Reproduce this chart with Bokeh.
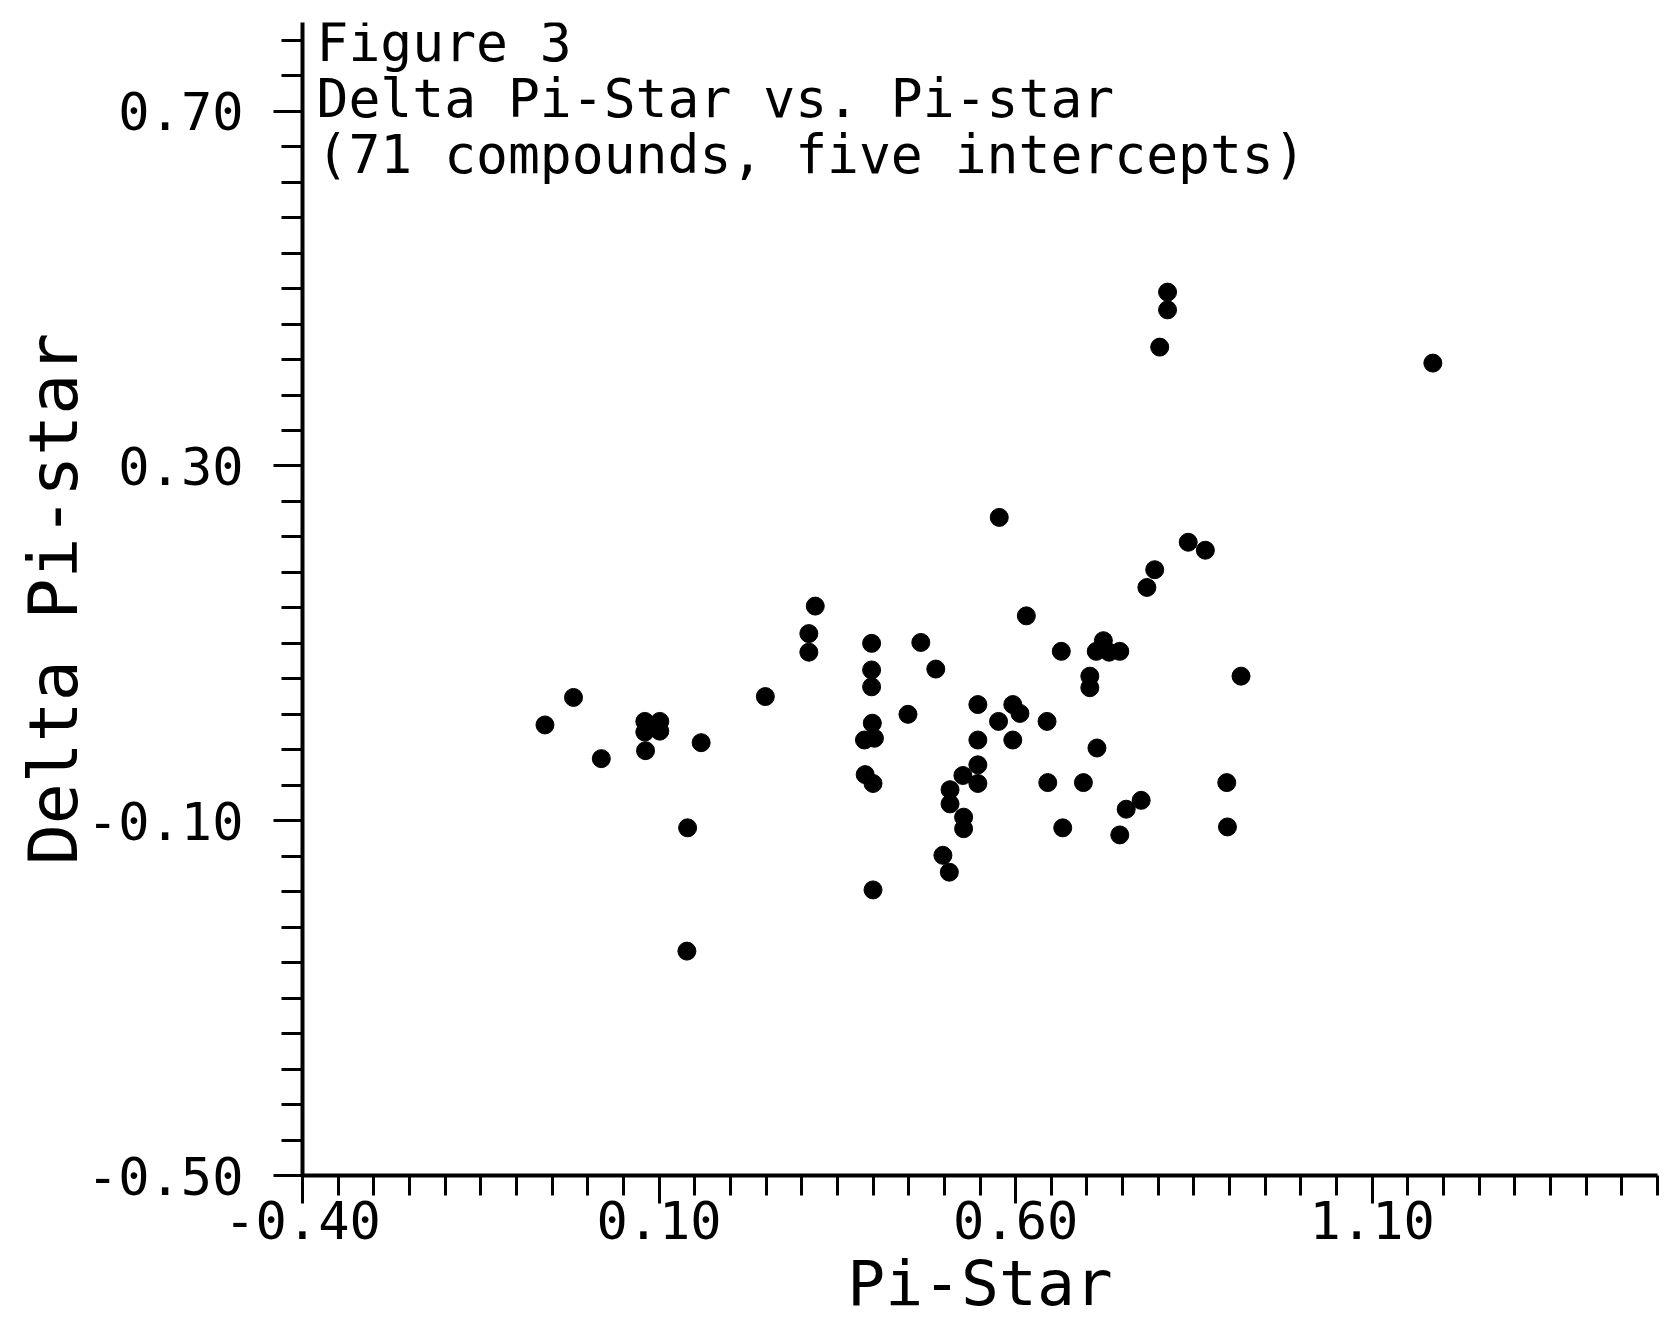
from bokeh.plotting import figure
from bokeh.models import FixedTicker, PrintfTickFormatter, Label, Range1d
from bokeh.embed import file_html
from bokeh.resources import INLINE

# ---- data (Pi-Star vs Delta Pi-star) ----
pi_star = [
    -0.060, -0.020, 0.019, 0.080, 0.101, 0.080, 0.101, 0.081, 0.159, 0.140,
    0.139, 0.249, 0.319, 0.310, 0.310, 0.398, 0.398, 0.398, 0.399, 0.388,
    0.402, 0.389, 0.400, 0.400, 0.467, 0.488, 0.449, 0.547, 0.596, 0.606,
    0.576, 0.644, 0.547, 0.596, 0.547, 0.526, 0.547, 0.508, 0.508, 0.527,
    0.527, 0.498, 0.507, 0.577, 0.615, 0.664, 0.723, 0.713, 0.731, 0.746,
    0.704, 0.704, 0.916, 0.714, 0.645, 0.695, 0.896, 0.776, 0.755, 0.666,
    0.746, 0.897, 0.784, 0.795, 0.842, 0.866, 0.813, 0.813, 0.802, 1.185,
]
delta_pi_star = [
    0.008, 0.039, -0.030, 0.012, 0.012, 0.000, 0.001, -0.021, -0.012, -0.108,
    -0.247, 0.040, 0.142, 0.111, 0.090, 0.100, 0.070, 0.051, 0.010, -0.009,
    -0.007, -0.048, -0.058, -0.178, 0.101, 0.071, 0.020, 0.031, 0.031, 0.021,
    0.012, 0.012, -0.009, -0.009, -0.037, -0.049, -0.058, -0.065, -0.081, -0.096,
    -0.109, -0.139, -0.158, 0.242, 0.131, 0.091, 0.103, 0.091, 0.090, 0.091,
    0.063, 0.050, 0.063, -0.018, -0.057, -0.057, -0.057, -0.077, -0.087, -0.108,
    -0.116, -0.107, 0.163, 0.183, 0.214, 0.205, 0.496, 0.476, 0.434, 0.416,
]

x_major_ticks = [-0.40, 0.10, 0.60, 1.10]
x_minor_ticks = [round(-0.40 + 0.05 * i, 2) for i in range(39)]
y_major_ticks = [-0.50, -0.10, 0.30, 0.70]
y_minor_ticks = [round(-0.50 + 0.04 * i, 2) for i in range(33)]

title_lines = ["Figure 3", "Delta Pi-Star vs. Pi-star", "(71 compounds, five intercepts)"]
x_label = "Pi-Star"
y_label = "Delta Pi-star"

FONT = "DejaVu Sans Mono"

p = figure(
    width=1664, height=1322,
    x_range=Range1d(-0.40, 1.50), y_range=Range1d(-0.50, 0.80),
    output_backend="svg", toolbar_location=None,
    min_border_left=302, min_border_right=7, min_border_top=22, min_border_bottom=147,
)
p.outline_line_color = None
p.grid.visible = False
p.background_fill_color = "white"
p.border_fill_color = "white"

p.xaxis.ticker = FixedTicker(ticks=x_major_ticks, minor_ticks=x_minor_ticks)
p.yaxis.ticker = FixedTicker(ticks=y_major_ticks, minor_ticks=y_minor_ticks)
p.xaxis.formatter = PrintfTickFormatter(format="%.2f")
p.yaxis.formatter = PrintfTickFormatter(format="%.2f")
p.xaxis.axis_label = x_label
p.yaxis.axis_label = y_label

for ax in (p.xaxis[0], p.yaxis[0]):
    ax.axis_line_width = 4
    ax.axis_line_color = "black"
    ax.major_tick_line_width = 3
    ax.minor_tick_line_width = 3
    ax.major_tick_line_color = "black"
    ax.minor_tick_line_color = "black"
    ax.major_tick_in = 0
    ax.minor_tick_in = 0
    ax.major_label_text_font = FONT
    ax.major_label_text_font_size = "52px"
    ax.major_label_text_color = "black"
    ax.axis_label_text_font = FONT
    ax.axis_label_text_font_style = "normal"
    ax.axis_label_text_color = "black"

xa = p.xaxis[0]
xa.major_tick_out = 28
xa.minor_tick_out = 20
xa.major_label_standoff = -3
xa.axis_label_standoff = 5
xa.axis_label_text_font_size = "63px"

ya = p.yaxis[0]
ya.major_tick_out = 29
ya.minor_tick_out = 21
ya.major_label_standoff = 30
ya.axis_label_standoff = -9
ya.axis_label_text_font_size = "68px"

for txt, off in zip(title_lines, [-20, -76, -132]):
    p.add_layout(Label(
        x=-0.40, y=0.80, x_offset=14, y_offset=off, text=txt,
        text_font=FONT, text_font_size="53px", text_color="black",
        text_baseline="alphabetic", text_align="left",
    ))

p.scatter(pi_star, delta_pi_star, marker="circle", size=18,
          fill_color="black", line_color="black")

open("out.html", "w").write(file_html(p, INLINE))
